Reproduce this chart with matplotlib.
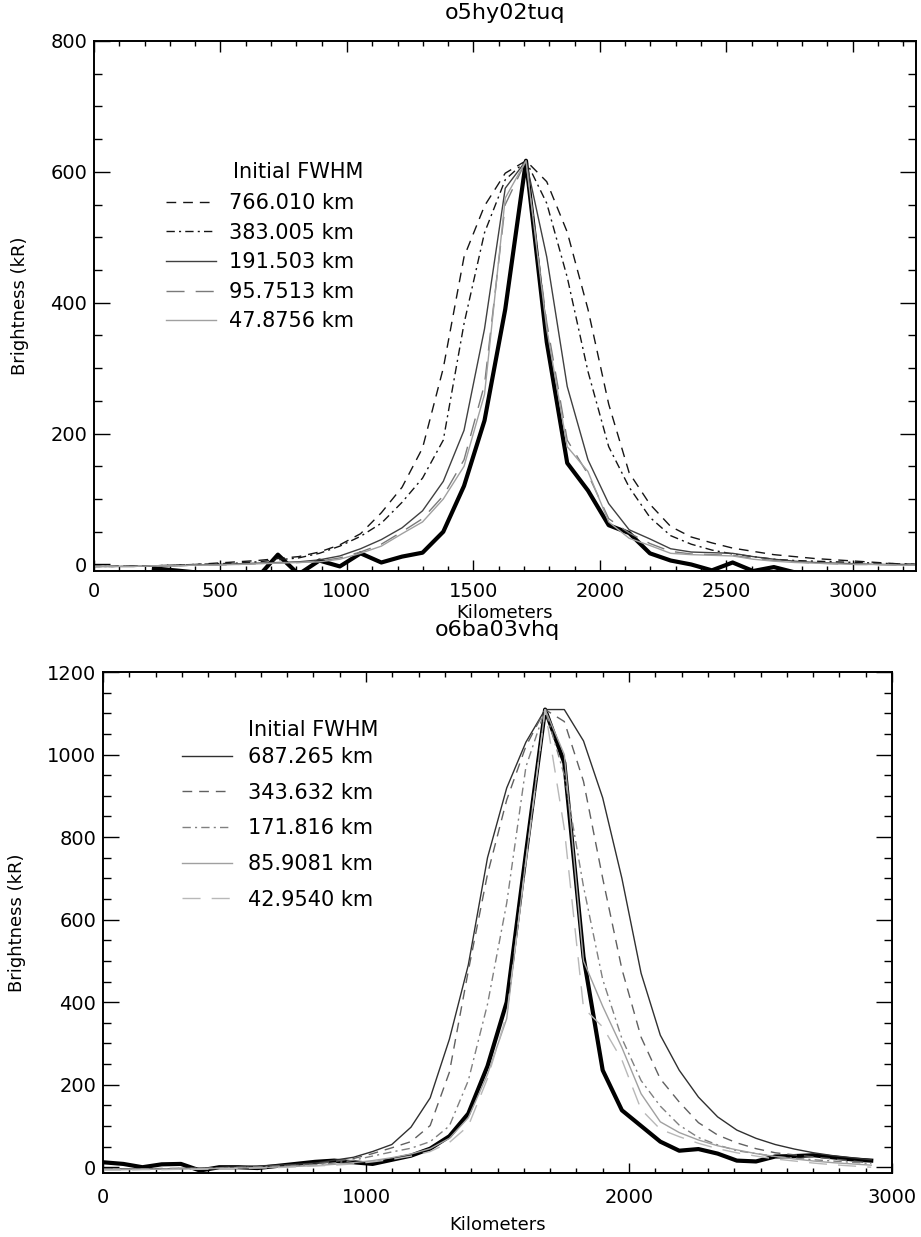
import numpy as np
import matplotlib
matplotlib.use("Agg")
from matplotlib import pyplot as plt
from matplotlib.ticker import MultipleLocator

plt.rcParams['font.family'] = ['DejaVu Sans']
FS = 13

# ---- top panel: o5hy02tuq ----
top_x = [-8, 74, 155, 237, 319, 400, 482, 564, 646, 727, 809, 891, 972, 1054, 1136,
         1218, 1299, 1381, 1463, 1544, 1626, 1708, 1790, 1871, 1953, 2035, 2116, 2198,
         2280, 2361, 2443, 2525, 2606, 2688, 2770, 2852, 2933, 3015, 3097, 3178, 3260]
top_fwhm = ['766.010 km', '383.005 km', '191.503 km', '95.7513 km', '47.8756 km']
top_766 = [-3, -3, -2, -2, -1, 0, 2, 4, 6, 9, 12, 19, 30, 47, 79, 118, 178, 300, 470, 548,
           598, 617, 585, 508, 390, 245, 140, 92, 58, 42, 33, 25, 20, 15, 12, 9, 7, 5, 3, 1, 0]
top_383 = [-3, -3, -2, -2, -1, 0, 1, 2, 4, 7, 10, 17, 28, 43, 63, 95, 132, 190, 368, 507,
           588, 617, 552, 439, 295, 180, 118, 72, 44, 31, 22, 16, 12, 8, 6, 5, 4, 3, 2, 1, 0]
top_191 = [-3, -3, -3, -2, -2, -1, 0, 1, 2, 3, 4, 7, 13, 24, 38, 56, 82, 127, 205, 360,
           575, 617, 470, 272, 160, 93, 53, 39, 24, 19, 18, 17, 12, 8, 5, 3, 2, 1, 0, 0, -1]
top_95 = [-3, -3, -3, -2, -2, -1, -1, 0, 1, 2, 3, 5, 10, 19, 31, 50, 70, 105, 160, 275,
          550, 617, 370, 190, 138, 70, 48, 32, 20, 16, 15, 14, 9, 6, 4, 2, 1, 0, 0, -1, -1]
top_47 = [-3, -3, -3, -2, -2, -1, -1, 0, 1, 2, 3, 4, 8, 17, 28, 47, 65, 100, 150, 260,
          560, 617, 360, 180, 142, 65, 40, 29, 17, 15, 14, 13, 8, 5, 3, 2, 1, 0, 0, -1, -1]
top_data_x = [237, 319, 400, 482, 564, 646, 727, 809, 891, 972, 1054, 1136, 1218, 1299,
              1381, 1463, 1544, 1626, 1708, 1790, 1871, 1953, 2035, 2116, 2198, 2280, 2361,
              2443, 2525, 2606, 2688, 2770]
top_data = [-6, -9, -12, -25, -25, -20, 15, -15, 6, -3, 17, 3, 12, 18, 50, 120, 220, 390,
            617, 340, 155, 113, 60, 48, 17, 6, 0, -9, 3, -10, -4, -12]

# ---- bottom panel: o6ba03vhq ----
bot_x = [0, 77, 150, 223, 296, 369, 442, 515, 587, 660, 733, 806, 879, 952, 1025, 1098,
         1171, 1244, 1317, 1389, 1462, 1535, 1608, 1681, 1754, 1827, 1900, 1973, 2046, 2119,
         2191, 2264, 2337, 2410, 2483, 2556, 2629, 2702, 2775, 2848, 2921]
bot_fwhm = ['687.265 km', '343.632 km', '171.816 km', '85.9081 km', '42.9540 km']
bot_687 = [-5, -5, -4, -4, -3, -2, -1, 1, 3, 5, 7, 10, 17, 24, 38, 55, 97, 168, 310, 490,
           750, 919, 1030, 1109, 1109, 1033, 895, 700, 470, 320, 235, 170, 122, 90, 70, 55,
           44, 35, 28, 23, 18]
bot_343 = [-4, -4, -4, -3, -3, -2, -1, 0, 1, 3, 5, 8, 14, 21, 33, 47, 62, 101, 230, 476,
           710, 890, 1020, 1109, 1080, 935, 700, 480, 315, 214, 158, 108, 78, 59, 45, 35,
           30, 25, 20, 15, 10]
bot_171 = [-5, -5, -4, -4, -3, -3, -2, -1, 0, 2, 4, 6, 10, 17, 27, 37, 46, 62, 100, 210,
           395, 640, 970, 1109, 950, 680, 455, 312, 210, 148, 102, 72, 54, 40, 33, 26, 22,
           18, 15, 12, 9]
bot_85 = [-6, -6, -5, -5, -4, -4, -3, -2, -1, 0, 2, 4, 7, 11, 16, 23, 32, 45, 70, 120, 225,
          360, 745, 1109, 1000, 500, 390, 290, 178, 110, 84, 66, 52, 42, 33, 26, 20, 15, 11,
          8, 5]
bot_42 = [-7, -7, -6, -6, -5, -5, -4, -3, -2, -1, 1, 3, 5, 8, 13, 19, 27, 38, 60, 100, 215,
          370, 740, 1109, 820, 386, 340, 260, 140, 92, 74, 58, 45, 35, 27, 20, 15, 10, 6, 3, 0]
bot_data = [12, 8, 0, 7, 8, -8, 0, 0, -2, 3, 8, 13, 16, 12, 8, 18, 28, 45, 75, 130, 245,
            400, 760, 1109, 980, 510, 235, 138, 100, 62, 40, 44, 33, 16, 14, 26, 27, 29, 24,
            19, 16]

DASH = (7, 5)
DASHDOT = (6, 3, 1.5, 3)
LONGDASH = (13, 8)
LEG_FS = 15


def style_axes(ax, xmaj, xmin, ymaj, ymin, xlen, ylen, xpad, xlabelpad):
    for s in ax.spines.values():
        s.set_linewidth(1.4)
    ax.xaxis.set_major_locator(MultipleLocator(xmaj))
    ax.xaxis.set_minor_locator(MultipleLocator(xmin))
    ax.yaxis.set_major_locator(MultipleLocator(ymaj))
    ax.yaxis.set_minor_locator(MultipleLocator(ymin))
    ax.tick_params(which='both', direction='in', top=True, right=True,
                   labelsize=14, width=1.0)
    ax.tick_params(axis='x', which='major', length=xlen, pad=xpad)
    ax.tick_params(axis='x', which='minor', length=xlen / 2)
    ax.tick_params(axis='y', which='major', length=ylen, pad=5)
    ax.tick_params(axis='y', which='minor', length=ylen / 2)
    ax.set_xlabel('Kilometers', fontsize=FS, labelpad=xlabelpad)
    ax.set_ylabel('Brightness (kR)', fontsize=FS, labelpad=15)


fig = plt.figure(figsize=(9.21, 12.37), dpi=100)

ax1 = fig.add_axes([94 / 921, 1 - 571 / 1237, 822 / 921, 530 / 1237])
ax1.plot(top_data_x, top_data, color='black', lw=3.0)
l1, = ax1.plot(top_x, top_766, color='#151515', lw=1.0, dashes=DASH)
l2, = ax1.plot(top_x, top_383, color='#151515', lw=1.0, dashes=DASHDOT)
l3, = ax1.plot(top_x, top_191, color='#404040', lw=1.0)
l4, = ax1.plot(top_x, top_95, color='#7a7a7a', lw=1.0, dashes=LONGDASH)
l5, = ax1.plot(top_x, top_47, color='#a0a0a0', lw=1.0)
ax1.set_xlim(0, 3250)
ax1.set_ylim(-10, 800)
style_axes(ax1, 500, 100, 200, 50, 7.6, 11.8, 8, 2)
ax1.set_title('o5hy02tuq', fontsize=16, pad=16)
ax1.text(0.169, 0.753, 'Initial FWHM', transform=ax1.transAxes, fontsize=LEG_FS,
         va='center', ha='left')
ax1.legend([l1, l2, l3, l4, l5], top_fwhm, loc='upper left', bbox_to_anchor=(0.088, 0.713),
           frameon=False, fontsize=LEG_FS, handlelength=2.4, handletextpad=0.62,
           labelspacing=0.46, borderpad=0, borderaxespad=0)

ax2 = fig.add_axes([103 / 921, 1 - 1173 / 1237, 789 / 921, 501 / 1237])
ax2.plot(bot_x, bot_data, color='black', lw=3.0)
m1, = ax2.plot(bot_x, bot_687, color='#303030', lw=1.0)
m2, = ax2.plot(bot_x, bot_343, color='#606060', lw=1.0, dashes=DASH)
m3, = ax2.plot(bot_x, bot_171, color='#808080', lw=1.0, dashes=DASHDOT)
m4, = ax2.plot(bot_x, bot_85, color='#a0a0a0', lw=1.0)
m5, = ax2.plot(bot_x, bot_42, color='#b8b8b8', lw=1.0, dashes=LONGDASH)
ax2.set_xlim(0, 3000)
ax2.set_ylim(-14, 1200)
style_axes(ax2, 1000, 100, 200, 50, 7.2, 11.4, 11, 6)
ax2.set_title('o6ba03vhq', fontsize=16, pad=26)
ax2.text(0.184, 0.884, 'Initial FWHM', transform=ax2.transAxes, fontsize=LEG_FS,
         va='center', ha='left')
ax2.legend([m1, m2, m3, m4, m5], bot_fwhm, loc='upper left', bbox_to_anchor=(0.1, 0.85),
           frameon=False, fontsize=LEG_FS, handlelength=2.4, handletextpad=0.75,
           labelspacing=0.75, borderpad=0, borderaxespad=0)

fig.savefig('out.png', dpi=100)
